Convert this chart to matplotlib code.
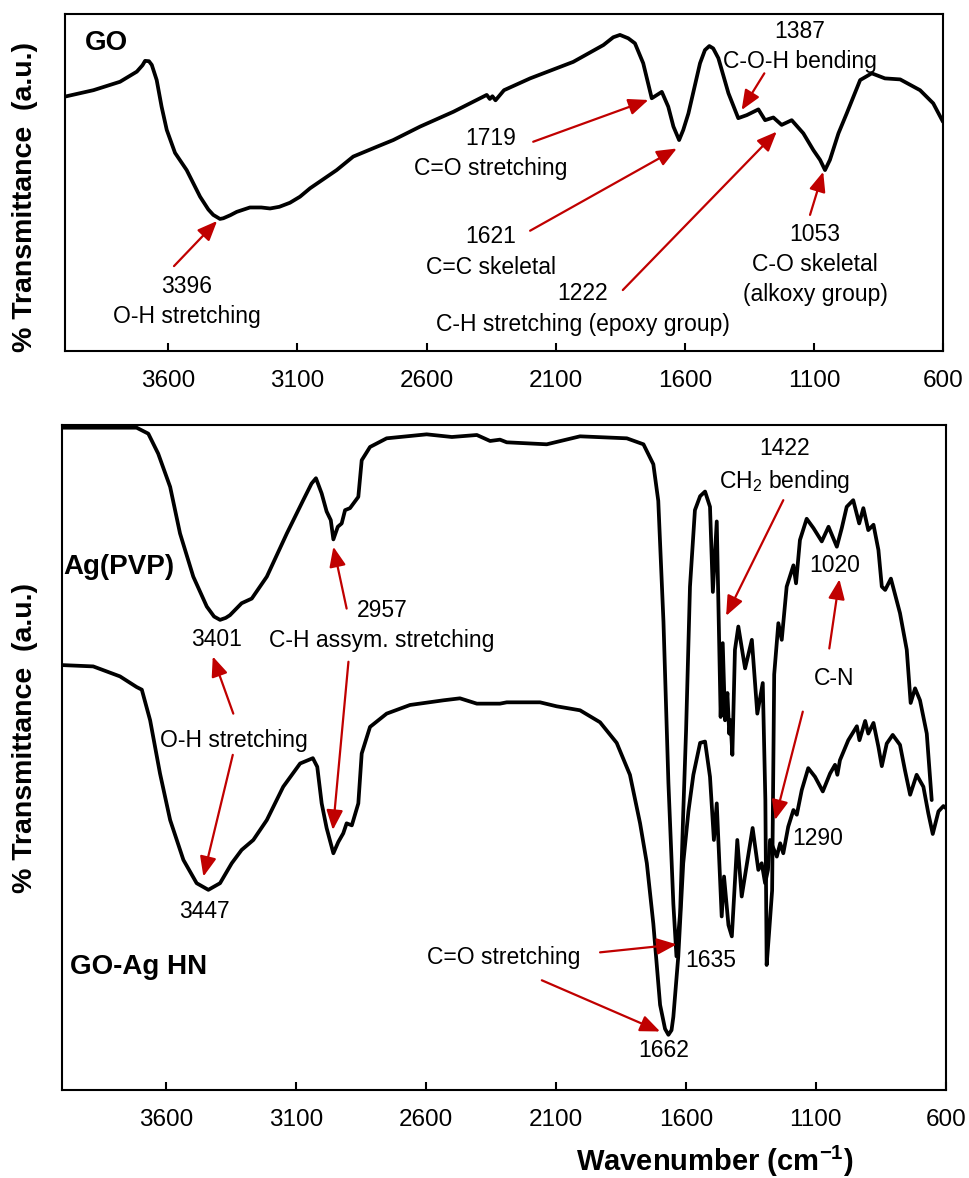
import numpy as np
import matplotlib
matplotlib.use('Agg')
import matplotlib.pyplot as plt

plt.rcParams['font.family'] = 'Liberation Sans'
plt.rcParams['mathtext.fontset'] = 'custom'
plt.rcParams['mathtext.rm'] = 'Liberation Sans'
plt.rcParams['mathtext.bf'] = 'Liberation Sans:bold'

# GO spectrum (top panel), wavenumber (cm-1) / transmittance (a.u.)
go_wn = [4000, 3890, 3787, 3722, 3700, 3690, 3675, 3664, 3645, 3626, 3606, 3574,
         3529, 3477, 3445, 3426, 3400, 3387, 3360, 3335, 3284, 3240, 3206, 3170,
         3129, 3090, 3051, 2948, 2884, 2793, 2729, 2625, 2496, 2367, 2355, 2345,
         2333, 2300, 2199, 2032, 1915, 1877, 1851, 1819, 1793, 1761, 1728, 1689,
         1664, 1644, 1622, 1606, 1586, 1541, 1522, 1505, 1490, 1470, 1431, 1393,
         1360, 1315, 1289, 1257, 1225, 1186, 1141, 1102, 1076, 1057, 1038, 1005,
         973, 921, 876, 825, 766, 689, 638, 600]
go_t = [75.5, 77.4, 79.9, 82.9, 84.8, 86.1, 86.0, 84.9, 80.4, 72.5, 65.6, 58.8,
        53.7, 45.8, 42.0, 40.4, 39.2, 39.4, 40.3, 41.3, 42.6, 42.6, 42.3, 42.8,
        44.0, 45.8, 48.3, 53.7, 57.7, 60.6, 62.6, 66.6, 71.0, 76.0, 74.8, 75.6,
        74.4, 77.4, 80.9, 85.8, 90.8, 93.1, 93.8, 92.8, 91.3, 85.4, 75.0, 76.9,
        72.5, 66.6, 62.6, 65.6, 70.5, 85.4, 89.3, 90.5, 89.8, 86.9, 76.5, 69.1,
        70.0, 71.7, 68.5, 69.3, 67.1, 68.5, 64.6, 59.6, 56.7, 53.7, 56.7, 64.6,
        70.5, 80.4, 82.4, 80.9, 80.6, 77.4, 73.5, 68.0]

# Ag(PVP) spectrum (bottom panel, upper trace)
ag_wn = [4000, 3713, 3668, 3630, 3584, 3546, 3495, 3443, 3415, 3392, 3370, 3354,
         3309, 3270, 3212, 3135, 3072, 3040, 3023, 3001, 2982, 2966, 2956, 2939,
         2924, 2911, 2892, 2860, 2847, 2815, 2751, 2597, 2500, 2404, 2353, 2315,
         2289, 2135, 2007, 1827, 1763, 1725, 1706, 1686, 1667, 1648, 1636, 1622,
         1610, 1599, 1584, 1565, 1545, 1526, 1507, 1496, 1481, 1466, 1458, 1449,
         1440, 1433, 1428, 1421, 1411, 1398, 1372, 1346, 1325, 1304, 1294, 1289,
         1280, 1268, 1260, 1244, 1231, 1212, 1186, 1176, 1161, 1135, 1109, 1077,
         1051, 1019, 1000, 981, 956, 933, 917, 898, 878, 859, 846, 833, 811, 776,
         750, 735, 718, 699, 673, 654]
ag_t = [99.6, 99.6, 98.7, 95.7, 90.7, 83.7, 77.2, 72.7, 71.2, 70.7, 71.0, 71.4,
        73.2, 73.9, 77.2, 83.7, 88.7, 91.2, 92.0, 89.7, 87.0, 85.7, 82.8, 84.7,
        85.2, 87.2, 87.5, 89.2, 94.7, 96.7, 98.0, 98.6, 98.2, 98.5, 97.6, 97.8,
        97.4, 97.1, 98.3, 98.0, 97.1, 94.1, 88.6, 70.4, 46.2, 28.0, 20.1, 26.6,
        41.6, 54.1, 75.7, 87.2, 89.3, 90.0, 87.7, 74.9, 85.5, 56.1, 67.2, 55.6,
        59.7, 53.6, 55.6, 50.4, 66.2, 69.7, 63.4, 67.7, 56.6, 61.2, 43.6, 18.8,
        23.5, 30.0, 62.5, 70.2, 67.7, 75.7, 78.9, 76.2, 82.7, 85.9, 84.5, 82.5,
        84.7, 81.7, 84.5, 87.7, 88.7, 85.2, 87.5, 84.2, 85.0, 81.2, 75.7, 75.2,
        76.9, 71.7, 66.2, 58.2, 60.4, 58.6, 53.6, 43.6]

# GO-Ag HN spectrum (bottom panel, lower trace)
goag_wn = [4000, 3880, 3777, 3713, 3693, 3661, 3623, 3584, 3533, 3482, 3437, 3392,
           3347, 3309, 3264, 3212, 3149, 3084, 3035, 3018, 3001, 2982, 2956, 2937,
           2918, 2905, 2885, 2860, 2847, 2815, 2751, 2661, 2533, 2469, 2404, 2315,
           2289, 2161, 2097, 2007, 1930, 1866, 1815, 1776, 1750, 1725, 1699, 1680,
           1667, 1655, 1648, 1629, 1610, 1590, 1571, 1545, 1526, 1507, 1492, 1481,
           1462, 1453, 1436, 1423, 1402, 1385, 1343, 1321, 1308, 1295, 1284, 1276,
           1250, 1237, 1225, 1206, 1186, 1173, 1154, 1129, 1103, 1073, 1045, 1026,
           1017, 1007, 975, 942, 932, 910, 898, 878, 859, 846, 827, 804, 776, 757,
           737, 712, 686, 667, 650, 628, 609, 600]
goag_t = [63.9, 63.7, 62.2, 60.6, 60.2, 55.6, 47.6, 40.6, 34.6, 31.1, 30.1, 31.1,
          34.1, 36.1, 37.6, 40.6, 45.6, 49.1, 49.9, 48.6, 43.1, 39.4, 35.6, 37.3,
          38.6, 40.1, 39.8, 43.1, 50.6, 54.6, 56.6, 57.9, 58.6, 58.9, 58.1, 58.1,
          58.3, 58.3, 57.7, 57.1, 55.3, 52.2, 47.4, 40.1, 34.1, 25.0, 12.8, 9.2,
          8.3, 9.0, 11.0, 20.1, 34.1, 41.9, 47.4, 52.2, 52.4, 47.1, 37.6, 43.1,
          26.1, 32.1, 24.8, 23.1, 37.6, 29.1, 39.4, 33.1, 34.1, 31.1, 33.1, 37.6,
          35.1, 37.1, 35.6, 39.6, 42.1, 41.4, 45.1, 48.4, 47.1, 44.9, 47.6, 48.9,
          47.4, 49.6, 52.6, 54.7, 52.6, 55.5, 53.6, 55.2, 51.6, 48.7, 52.1, 53.4,
          51.9, 48.1, 44.4, 47.4, 45.6, 41.6, 38.5, 41.9, 42.7, 42.4]

ticks = [3600, 3100, 2600, 2100, 1600, 1100, 600]
red = '#C00000'

fig = plt.figure(figsize=(9.69, 11.78), dpi=100)
ax1 = fig.add_axes([0.0671, 0.7020, 0.9061, 0.2861])
ax2 = fig.add_axes([0.0640, 0.0747, 0.9120, 0.5645])

for ax in (ax1, ax2):
    ax.set_xlim(4000, 600)
    ax.set_ylim(0, 100)
    ax.set_xticks(ticks)
    ax.set_yticks([])
    ax.tick_params(axis='x', direction='in', length=5.5, width=1.5,
                   labelsize=17.5, pad=14)
    for s in ax.spines.values():
        s.set_linewidth(1.5)

style = dict(color='black', lw=2.7, solid_joinstyle='round', solid_capstyle='round')
ax1.plot(go_wn, go_t, **style)
ax2.plot(ag_wn, ag_t, **style)
ax2.plot(goag_wn, goag_t, **style)


def arrow(ax, tip, tail):
    ax.annotate('', xy=tip, xytext=tail,
                arrowprops=dict(arrowstyle='-|>,head_length=0.6,head_width=0.25',
                                color=red, lw=1.6, shrinkA=0, shrinkB=0,
                                mutation_scale=20))


def label(ax, x, y, s):
    ax.text(x, y, s, ha='center', va='center', fontsize=16.5, linespacing=1.4)


# top panel
ax1.text(0.023, 0.914, 'GO', transform=ax1.transAxes, fontsize=20,
         fontweight='bold', va='center')
label(ax1, 3528, 14.8, '3396\nO-H stretching')
arrow(ax1, (3411, 38.6), (3578, 25.2))
label(ax1, 2350, 58.5, '1719\nC=O stretching')
arrow(ax1, (1741, 74.5), (2187, 62.1))
label(ax1, 2350, 29.4, '1621\nC=C skeletal')
arrow(ax1, (1631, 60.1), (2199, 35.7))
label(ax1, 1994, 12.5, '1222\nC-H stretching (epoxy group)')
arrow(ax1, (1244, 65.1), (1840, 18.1))
label(ax1, 1154, 90.4, '1387\nC-O-H bending')
arrow(ax1, (1380, 71.5), (1292, 82.4))
label(ax1, 1096, 25.7, '1053\nC-O skeletal\n(alkoxy group)')
arrow(ax1, (1064, 53.2), (1115, 40.4))

# bottom panel
ax2.text(0.002, 0.787, 'Ag(PVP)', transform=ax2.transAxes, fontsize=20,
         fontweight='bold', va='center')
ax2.text(0.009, 0.185, 'GO-Ag HN', transform=ax2.transAxes, fontsize=20,
         fontweight='bold', va='center')
label(ax2, 3404, 67.7, '3401')
label(ax2, 2769, 69.8, '2957\nC-H assym. stretching')
arrow(ax2, (2956, 81.7), (2905, 72.4))
arrow(ax2, (2958, 39.1), (2898, 64.4))
label(ax2, 3338, 52.6, 'O-H stretching')
arrow(ax2, (3420, 65.2), (3341, 56.6))
arrow(ax2, (3456, 32.1), (3343, 50.4))
label(ax2, 3454, 26.8, '3447')
label(ax2, 1220, 93.8, '1422\nCH$_2$ bending')
arrow(ax2, (1445, 71.3), (1225, 88.7))
label(ax2, 1026, 78.9, '1020')
arrow(ax2, (1009, 76.8), (1048, 66.4))
label(ax2, 1030, 61.9, 'C-N')
arrow(ax2, (1257, 40.6), (1150, 56.9))
label(ax2, 1091, 37.8, '1290')
label(ax2, 1503, 19.5, '1635')
label(ax2, 2299, 20.0, 'C=O stretching')
arrow(ax2, (1635, 21.9), (1930, 20.7))
arrow(ax2, (1699, 8.8), (2154, 16.5))
label(ax2, 1684, 6.0, '1662')

ylab = '% Transmittance  (a.u.)'
fig.text(25 / 969, 1 - 197 / 1178, ylab, rotation=90, ha='center', va='center',
         fontsize=20.5, fontweight='bold')
fig.text(25 / 969, 1 - 738 / 1178, ylab, rotation=90, ha='center', va='center',
         fontsize=20.5, fontweight='bold')
fig.text(715 / 969, 1 - 1161.7 / 1178, r'Wavenumber (cm$^{\mathbf{-1}}$)',
         ha='center', va='center', fontsize=21, fontweight='bold')

fig.savefig('out.png', dpi=100)
